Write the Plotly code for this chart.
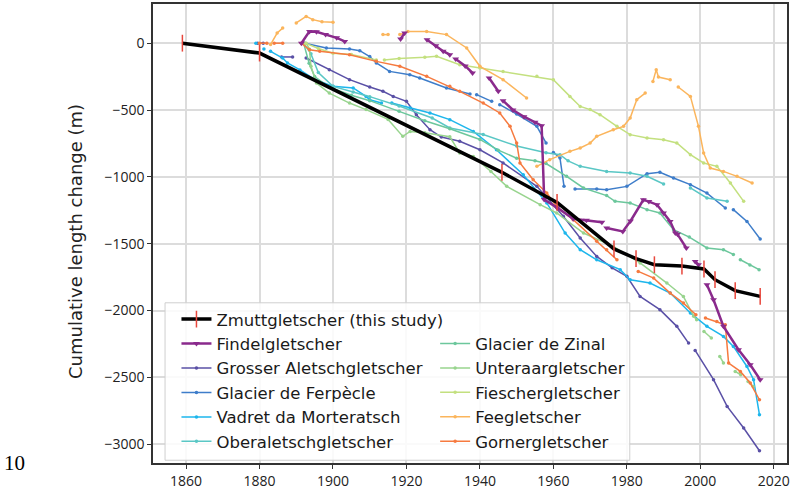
import plotly.graph_objects as go

# cumulative glacier length change (m); None = gap in the record
zmutt_years = [1859, 1880, 1946, 1961, 1976.5, 1982.5, 1987.5, 1995, 2001, 2004, 2009.5, 2016.3]
zmutt_change = [0, -74, -966, -1191, -1539, -1612, -1657, -1667, -1689, -1769, -1851, -1894]

findel_years = [1891.4, 1893.6, 1895.5, 1898, 1901, 1903.2, None, 1918.4, 1919.5, None,
                1925.6, 1928, 1930, 1931.8, None, 1933.4, 1936, 1938, None, 1942.5, 1945, None,
                1946.3, 1949, 1952, 1955, 1956.8, 1957.5, 1961, 1965.4, 1969, 1973.2, None,
                1974.5, 1978.9, 1981, 1984.5, 1986, 1988.2, 1990, 1991.8, 1993.2, None,
                1993.8, 1996.2, None, 1998.6, 1999.5, None,
                2001.8, 2003.6, 2006.3, 2010.4, 2013.6, 2016.3]
findel_change = [0, 88, 85, 65, 40, 13, None, 31, 76, None,
                 26, -20, -60, -86, None, -118, -170, -223, None, -260, -360, None,
                 -430, -500, -550, -592, -617, -1170, -1230, -1313, -1325, -1340, None,
                 -1382, -1408, -1330, -1171, -1185, -1208, -1270, -1333, -1420, None,
                 -1430, -1532, None, -1632, -1657, None,
                 -1806, -1919, -2118, -2293, -2405, -2517]

aletsch_years = [1879.5, 1881, None, 1886, 1889, None, 1892.7, 1899, 1904.5, 1910, 1913.6,
                 1916.4, 1920, 1922.7, 1926.4, 1929.5, 1934.5, 1940, 1946.3, 1955.5, 1962.7,
                 1967.3, 1971.8, 1976, 1980, 1983.6, 1989, 1993.6, 1996.8, None,
                 1998.6, 2003.6, 2007.3, 2011.8, 2016.1]
aletsch_change = [0, 0, None, -103, -103, None, -111, -198, -273, -328, -360,
                  -398, -435, -535, -647, -702, -734, -797, -896, -1071, -1295,
                  -1457, -1595, -1680, -1744, -1894, -1993, -2118, -2243, None,
                  -2298, -2517, -2717, -2878, -3048]

ferpecle_years = [1892.3, 1898.2, 1904.5, 1907.3, 1910, 1911.8, 1915.4, 1920.9, 1923.6, 1930.9,
                  1937.3, None, 1939.1, 1943.2, None, 1945.4, 1950, 1955.5, 1958, None,
                  1960, 1961.8, 1962.9, None, 1965.9, 1971.8, 1974.5, 1980, 1985.5, 1989,
                  1992.7, 1997.3, 2001.8, 2006.8, None, 2009, 2012.7, 2016.3]
ferpecle_change = [0, -36, -44, -56, -100, -148, -211, -236, -260, -335,
                   -380, None, -385, -435, None, -460, -530, -622, -746, None,
                   -817, -859, -1071, None, -1090, -1090, -1096, -1071, -976, -966,
                   -1008, -1058, -1121, -1233, None, -1245, -1333, -1465]

morteratsch_years = [1879, None, 1881.2, None, 1883, 1886.3, 1887.6, 1891, 1895, 1900,
                     1905.5, 1909, 1910, 1913.2, None, 1916, 1921, 1926.4, 1931.8, 1938.2,
                     1944.5, 1951.8, 1958.2, 1963.2, 1967.3, 1971.8, 1978.2, 1980.9, 1986.3,
                     1991.8, 1997.3, 2001.8, 2006.3, 2009, 2012.7, 2014.5, 2016.1]
morteratsch_change = [0, None, -44, None, -61, -111, -148, -200, -270, -323,
                      -335, -398, -423, -448, None, -448, -485, -522, -572, -660,
                      -797, -984, -1195, -1420, -1545, -1620, -1694, -1769, -1794,
                      -1869, -2018, -2118, -2193, -2268, -2418, -2517, -2779]

oberaletsch_years = [1892, 1894, 1896, 1900, 1905.5, 1910, 1918, 1927, 1931.8, 1940.9,
                     1950, 1958, 1961.8, 1964, 1967.3, 1974.5, 1980.9, 1985.5, 1990, None,
                     1997.3, 2001.8, 2007.3]
oberaletsch_change = [0, -80, -220, -323, -365, -400, -470, -560, -634, -683,
                      -769, -820, -834, -880, -921, -959, -971, -996, -1053, None,
                      -1083, -1158, -1183]

zinal_years = [1892, 1893.5, 1895, 1899, 1905, 1910, 1918, 1925, 1931.8, 1940, 1945, 1950,
               1955, 1958, 1963.6, 1968.2, 1974.5, 1976.8, 1980.9, 1985.5, 1989, 1992.7,
               1997, 2001.8, 2006.3, 2009, None, 2010.9, 2013.5, 2016]
zinal_change = [0, -150, -250, -330, -390, -430, -510, -580, -640, -720, -800, -860,
                -880, -900, -996, -1083, -1140, -1183, -1196, -1245, -1270, -1395,
                -1450, -1532, -1545, -1580, None, -1620, -1660, -1694]

unteraar_years = [1892.7, 1893.6, 1894, 1895.5, 1899, 1904.5, 1909, 1915, 1919, 1921, 1925,
                  1931.8, 1934.5, 1938.2, 1943, 1947.3, 1956.4, 1960.9, 1968.2, 1976.3,
                  1983.6, 1990.9, 1995.4, 1998.2, 1999, None, 2001, 2003, None,
                  2005.3, 2006.3, None, 2009.5, 2011, None, 2013, 2014.4]
unteraar_change = [0, -45, -173, -298, -373, -448, -497, -570, -697, -660, -670,
                   -700, -821, -847, -960, -1071, -1208, -1270, -1420, -1520,
                   -1644, -1794, -1894, -2043, -2068, None, -2156, -2205, None,
                   -2343, -2392, None, -2455, -2480, None, -2530, -2567]

fiescher_years = [1892.5, 1896, 1900, 1905, 1911.8, None, 1914, 1918, 1925, 1928.2, 1934.5,
                  1940, 1946.3, 1955.5, 1960, 1964.5, 1967.3, 1970, 1972.7, 1977.3, 1980.9,
                  1985.5, 1990, 1993.6, 1997.3, 2000.9, 2004.5, 2008.2, 2011.8]
fiescher_change = [0, -40, -75, -85, -125, None, -125, -115, -105, -98, -161,
                   -185, -211, -248, -273, -398, -473, -497, -535, -622, -684,
                   -709, -722, -747, -834, -896, -921, -1046, -1183]

fee_years = [1883, 1884.8, 1886.3, None, 1890, 1892.7, 1894.5, 1897, 1900, None,
             1913.6, 1915, None, 1918.2, 1920.4, 1925.5, 1930.9, 1936.4, 1940, 1946.3,
             1952.7, None, 1955.5, 1959, 1964.5, 1967.3, 1970, 1971.8, 1976.3, 1979.1,
             1980.9, 1982.7, 1985, None, 1987.1, 1988, 1988.6, 1991.8, None,
             1994, 1997.3, 1999.5, 2000.9, 2002.7, 2006.3, 2010, 2014.1]
fee_change = [-10, 76, 113, None, 151, 200, 176, 160, 156, None,
              64, 64, None, 64, 88, 88, 64, -36, -173, -273,
              -410, None, -921, -871, -809, -784, -747, -697, -647, -622,
              -560, -423, -373, None, -286, -198, -253, -273, None,
              -328, -398, -622, -821, -934, -959, -996, -1046]

gorner_years = [1880, 1882, None, 1884, 1886.3, None, 1891.4, 1893.6, 1896.4, 1904.5, 1911.8,
                1918.2, 1925.5, 1931.8, 1934.5, 1940.9, 1945.4, 1948.2, 1950, 1950.9,
                1954.5, 1958.2, 1960.9, 1965.4, 1971.8, 1974.5, 1977.3, None,
                1983.1, 1987.3, 1991.8, 1995.4, 1998.8, None,
                2001.4, 2004.5, 2006.8, 2007.7, 2010.9, 2013.6, 2016.1]
gorner_change = [0, 0, None, 0, 0, None, 0, -49, -61, -86, -136,
                 -173, -248, -323, -360, -448, -522, -622, -746, -896,
                 -1021, -1121, -1221, -1320, -1482, -1545, -1620, None,
                 -1707, -1757, -1869, -1944, -2031, None,
                 -2055, -2081, -2106, -2392, -2455, -2542, -2667]

x_ticks = [1860, 1880, 1900, 1920, 1940, 1960, 1980, 2000, 2020]
y_ticks = [0, -500, -1000, -1500, -2000, -2500, -3000]

# (name, years, values, colour, legend column)
others = [
    ("Grosser Aletschgletscher", aletsch_years, aletsch_change, "#5a50a6", "legend"),
    ("Glacier de Ferpècle", ferpecle_years, ferpecle_change, "#3e7dca", "legend"),
    ("Vadret da Morteratsch", morteratsch_years, morteratsch_change, "#1db6ec", "legend"),
    ("Oberaletschgletscher", oberaletsch_years, oberaletsch_change, "#5ac7c5", "legend"),
    ("Glacier de Zinal", zinal_years, zinal_change, "#6cc79c", "legend2"),
    ("Unteraargletscher", unteraar_years, unteraar_change, "#98d48e", "legend2"),
    ("Fieschergletscher", fiescher_years, fiescher_change, "#c3e07f", "legend2"),
    ("Feegletscher", fee_years, fee_change, "#fbb55c", "legend2"),
    ("Gornergletscher", gorner_years, gorner_change, "#f67a3f", "legend2"),
]

fig = go.Figure()

for name, yrs, vals, colour, leg in others:
    fig.add_trace(go.Scatter(
        x=yrs, y=vals, name=name, mode="lines+markers", legend=leg,
        line=dict(color=colour, width=1.5),
        marker=dict(color=colour, size=3.5),
        legendgroup=name,
    ))

fig.add_trace(go.Scatter(
    x=findel_years, y=findel_change, name="Findelgletscher", mode="lines+markers",
    legend="legend", legendgroup="Findelgletscher",
    line=dict(color="#8a2a8c", width=2.5),
    marker=dict(color="#8a2a8c", size=6, symbol="triangle-down"),
))

fig.add_trace(go.Scatter(
    x=zmutt_years, y=zmutt_change, name="Zmuttgletscher (this study)", mode="lines+markers",
    legend="legend", legendgroup="Zmutt",
    line=dict(color="black", width=3.5),
    marker=dict(symbol="line-ns", size=12, color="#e8473c",
                line=dict(color="#e8473c", width=1.5)),
))

# legend order: Zmutt first, then Findel, then the rest
order = {"Zmuttgletscher (this study)": 1, "Findelgletscher": 2}
for i, tr in enumerate(fig.data):
    tr.legendrank = order.get(tr.name, 10 + i)

legend_font = dict(family="DejaVu Sans", size=16.5, color="#1a1a1a")
fig.update_layout(
    width=793, height=501,
    margin=dict(l=153, r=6, t=4, b=38),
    plot_bgcolor="white", paper_bgcolor="white",
    font=dict(family="Open Sans", size=14, color="#222"),
    showlegend=True,
    legend=dict(x=0.037, y=0.351, xanchor="left", yanchor="top", bgcolor="rgba(0,0,0,0)",
                font=legend_font, tracegroupgap=0),
    legend2=dict(x=0.445, y=0.298, xanchor="left", yanchor="top", bgcolor="rgba(0,0,0,0)",
                 font=legend_font, tracegroupgap=0),
    shapes=[dict(type="rect", xref="paper", yref="paper", x0=0.019, x1=0.752, y0=0.006, y1=0.349,
                 line=dict(color="#cfcfcf", width=1), fillcolor="rgba(255,255,255,0.85)",
                 layer="above")],
    annotations=[
        dict(text="10", xref="paper", yref="paper", x=-0.219, y=0.0, xanchor="center",
             yanchor="middle", showarrow=False,
             font=dict(family="Liberation Serif", size=21, color="black")),
        dict(text="Cumulative length change (m)", xref="paper", yref="paper",
             x=(75 - 153) / 634, y=(463 - 242) / 459, xanchor="center", yanchor="middle",
             textangle=-90, showarrow=False,
             font=dict(family="DejaVu Sans", size=18, color="#222")),
    ],
)

fig.update_xaxes(
    range=[1851, 2023.6], tickvals=x_ticks, showgrid=True, gridcolor="#dcdcdc", gridwidth=1.5,
    showline=True, linecolor="#333", linewidth=1.5, mirror=True, automargin=False,
    ticks="outside", ticklen=4, tickcolor="#333", zeroline=False,
)
fig.update_yaxes(
    range=[-3140, 293], tickvals=y_ticks, showgrid=True, gridcolor="#dcdcdc", gridwidth=1.5,
    showline=True, linecolor="#333", linewidth=1.5, mirror=True, automargin=False,
    ticks="outside", ticklen=4, tickcolor="#333", zeroline=False,
)

# drop the browser's default page margin so the figure sits at the window origin
fig.write_html("out.html", config={"displayModeBar": False},
               post_script="document.body.style.margin='0';")
